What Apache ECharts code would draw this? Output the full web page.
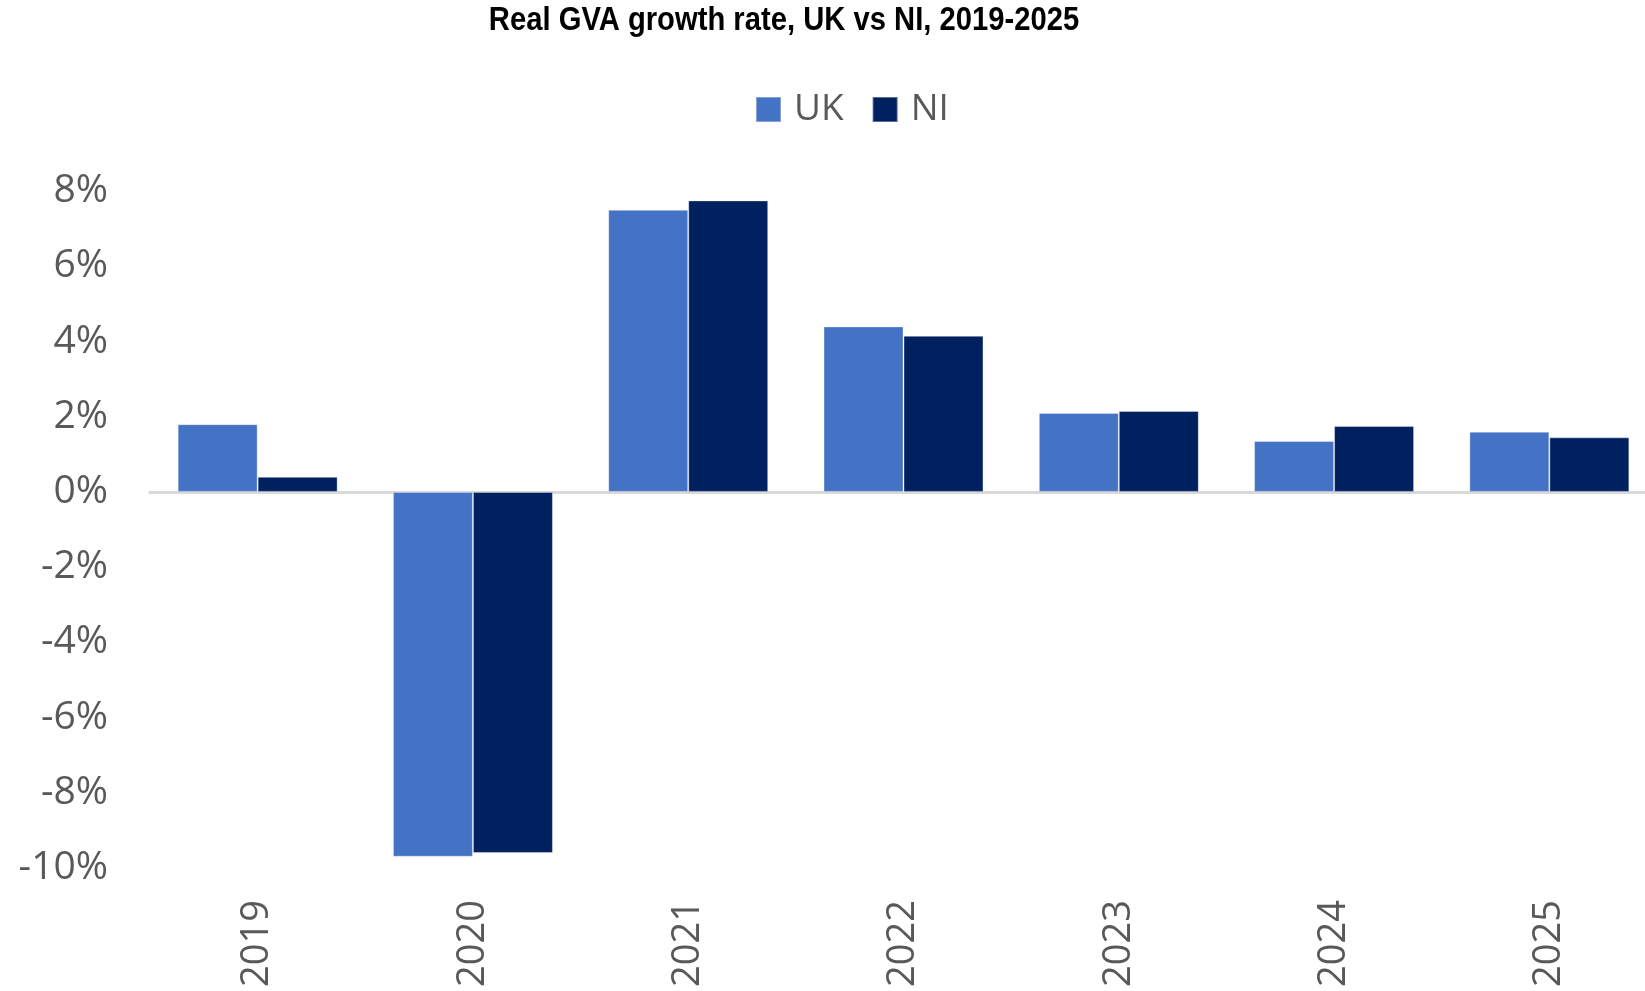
<!DOCTYPE html>
<html>
<head>
<meta charset="utf-8">
<script src="https://cdn.jsdelivr.net/npm/echarts@6/dist/echarts.min.js"></script>
<style>
  html, body { margin: 0; padding: 0; background: #ffffff; overflow: hidden; }
  /* the plot runs slightly past the right edge of the page */
  #chart { width: 1680px; height: 991px; }
</style>
</head>
<body>
<div id="chart"></div>
<script>
// Annual real GVA growth (%), UK and Northern Ireland
const years = ['2019', '2020', '2021', '2022', '2023', '2024', '2025'];
const ukGrowth = [1.8, -9.7, 7.5, 4.4, 2.1, 1.35, 1.6];
const niGrowth = [0.4, -9.6, 7.75, 4.15, 2.15, 1.75, 1.45];
const seriesNames = ['UK', 'NI'];
const titleText = 'Real GVA growth rate, UK vs NI, 2019-2025';

const labelFont = '"Open Sans", "Noto Sans", sans-serif';
const labelGrey = '#595959';

const chart = echarts.init(document.getElementById('chart'));
chart.setOption({
  animation: false,
  backgroundColor: '#ffffff',
  // condensed bold heading
  graphic: [
    {
      type: 'text',
      x: 784,
      y: 21,
      scaleX: 0.885,
      style: {
        text: titleText,
        x: 0,
        y: 0,
        align: 'center',
        verticalAlign: 'middle',
        font: 'bold 33px "Liberation Sans", Arial, sans-serif',
        fill: '#000000'
      }
    }
  ],
  legend: {
    data: seriesNames,
    left: 750,
    top: 86,
    itemWidth: 25,
    itemHeight: 25,
    itemGap: 28,
    icon: 'rect',
    textStyle: {
      fontFamily: labelFont,
      fontSize: 37,
      color: labelGrey,
      padding: [0, 0, 0, 8]
    }
  },
  grid: {
    left: 150,
    top: 191,
    width: 1507,
    height: 677,
    containLabel: false
  },
  xAxis: [
    {
      type: 'category',
      data: years,
      position: 'bottom',
      axisLine: { show: false, onZero: false },
      axisTick: { show: false },
      axisLabel: {
        rotate: 90,
        margin: 32,
        fontFamily: labelFont,
        fontSize: 38,
        color: labelGrey,
        padding: [0, 0, 6, 0]
      }
    },
    {
      // zero baseline
      type: 'category',
      data: years,
      position: 'top',
      axisLine: { show: true, onZero: true, lineStyle: { color: '#d9d9d9', width: 3 } },
      axisTick: { show: false },
      axisLabel: { show: false }
    }
  ],
  yAxis: {
    type: 'value',
    min: -10,
    max: 8,
    interval: 2,
    axisLine: { show: false },
    axisTick: { show: false },
    splitLine: { show: false },
    axisLabel: {
      margin: 42,
      fontFamily: labelFont,
      fontSize: 39,
      color: labelGrey,
      padding: [6, 0, 0, 0],
      formatter: v => v + '%'
    }
  },
  series: [
    {
      name: seriesNames[0],
      type: 'bar',
      xAxisIndex: 0,
      data: ukGrowth,
      barGap: '0%',
      barCategoryGap: '25.7%',
      itemStyle: { color: '#4472C4', borderColor: 'rgba(255,255,255,0.35)', borderWidth: 1 }
    },
    {
      name: seriesNames[1],
      type: 'bar',
      xAxisIndex: 0,
      data: niGrowth,
      barGap: '0%',
      barCategoryGap: '25.7%',
      itemStyle: { color: '#002060', borderColor: 'rgba(255,255,255,0.35)', borderWidth: 1 }
    }
  ]
});
</script>
</body>
</html>
